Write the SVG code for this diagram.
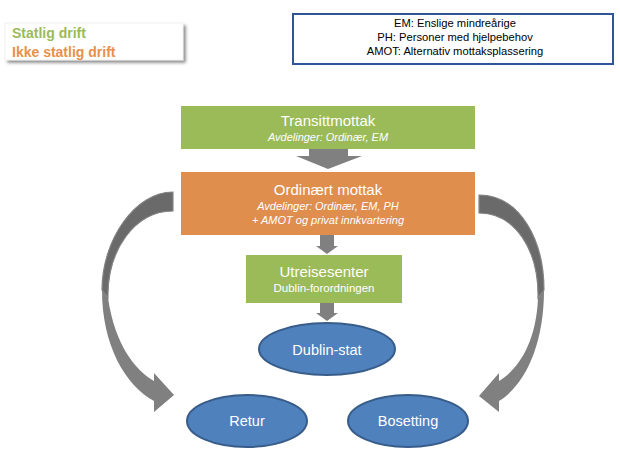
<svg xmlns="http://www.w3.org/2000/svg" width="620" height="463" viewBox="0 0 620 463">
  <defs>
    <filter id="shadow" x="-10%" y="-20%" width="130%" height="160%">
      <feDropShadow dx="2.5" dy="2.5" stdDeviation="1.5" flood-color="#000" flood-opacity="0.45"/>
    </filter>
    <style>
      text { font-family: "Liberation Sans", Arial, sans-serif; }
      .box-green { fill: #9BBB59; }
      .box-orange { fill: #DF8E4E; }
      .ell { fill: #4F81BD; stroke: #385D8A; stroke-width: 2; }
      .t-main { fill: #FFFFFF; font-size: 15px; text-anchor: middle; }
      .t-sub { fill: #FFFFFF; font-size: 11px; font-style: italic; text-anchor: middle; }
      .t-sub2 { fill: #FFFFFF; font-size: 11.5px; text-anchor: middle; }
      .t-ell { fill: #FFFFFF; font-size: 14.5px; text-anchor: middle; }
      .t-legend { fill: #000000; font-size: 11.2px; text-anchor: middle; }
      .arrow { fill: #808080; }
      .arrow-dark { fill: #6A6A6A; stroke: #858585; stroke-width: 1.2; }
    </style>
  </defs>
  <rect width="620" height="463" fill="#FFFFFF"/>

  <g id="legend-colors">
    <rect x="5" y="23" width="178" height="37" fill="#FFFFFF" stroke="#E6E6E6" stroke-width="0.6" filter="url(#shadow)"/>
    <text x="12" y="38" font-size="14" font-weight="bold" fill="#9BBB59">Statlig drift</text>
    <text x="12" y="57" font-size="14" font-weight="bold" fill="#E8904A">Ikke statlig drift</text>
  </g>

  <g id="legend-abbrev">
    <rect x="293" y="14" width="320" height="50" fill="#FFFFFF" stroke="#2F5597" stroke-width="2"/>
    <text class="t-legend" x="455" y="27">EM: Enslige mindreårige</text>
    <text class="t-legend" x="455" y="41">PH: Personer med hjelpebehov</text>
    <text class="t-legend" x="455" y="55">AMOT: Alternativ mottaksplassering</text>
  </g>

  <g id="connectors">
    <path class="arrow" d="M309,149 H348 V156 H362 L328,169 L296,156 H309 Z"/>
    <path class="arrow" d="M320,235 H334 V246 H338 L327,254 L316,246 H320 Z"/>
    <path class="arrow" d="M320,303 H334 V313 H338 L327,321 L316,313 H320 Z"/>
    <g id="curve-left">
      <path class="arrow" d="M173,192 C135,192 102,240 102,290 C102,345 125,385 154,401 L154,412 L174,395 L154,373 L154,381 C135,370 115,345 108,298 C107,250 135,211 173,211 Z"/>
      <path class="arrow-dark" d="M173,192 C135,192 102,240 102,290 L108,298 C107,250 135,211 173,211 Z"/>
    </g>
    <g id="curve-right">
      <path class="arrow" d="M479,195 C520,195 544,240 544,290 C544,345 525,385 499,401 L499,412 L479,396 L499,373 L499,381 C517,370 536,345 538,298 C539,250 515,213 479,213 Z"/>
      <path class="arrow-dark" d="M479,195 C520,195 544,240 544,290 L538,298 C539,250 515,213 479,213 Z"/>
    </g>
  </g>

  <g id="transittmottak">
    <rect class="box-green" x="181" y="106" width="294" height="43"/>
    <text class="t-main" x="328" y="126">Transittmottak</text>
    <text class="t-sub" x="328" y="141">Avdelinger: Ordinær, EM</text>
  </g>

  <g id="ordinaert-mottak">
    <rect class="box-orange" x="181" y="172" width="294" height="63"/>
    <text class="t-main" x="328" y="195">Ordinært mottak</text>
    <text class="t-sub" x="328" y="210">Avdelinger: Ordinær, EM, PH</text>
    <text class="t-sub" x="328" y="224">+ AMOT og privat innkvartering</text>
  </g>

  <g id="utreisesenter">
    <rect class="box-green" x="246" y="255" width="156" height="48"/>
    <text class="t-main" x="324" y="277" font-size="14.5">Utreisesenter</text>
    <text class="t-sub2" x="324" y="292">Dublin-forordningen</text>
  </g>

  <g id="dublin-stat">
    <ellipse class="ell" cx="327" cy="349" rx="68" ry="26"/>
    <text class="t-ell" x="327" y="355">Dublin-stat</text>
  </g>

  <g id="retur">
    <ellipse class="ell" cx="247" cy="421" rx="60" ry="26"/>
    <text class="t-ell" x="247" y="426">Retur</text>
  </g>

  <g id="bosetting">
    <ellipse class="ell" cx="408" cy="421" rx="60" ry="26"/>
    <text class="t-ell" x="408" y="426">Bosetting</text>
  </g>
</svg>
